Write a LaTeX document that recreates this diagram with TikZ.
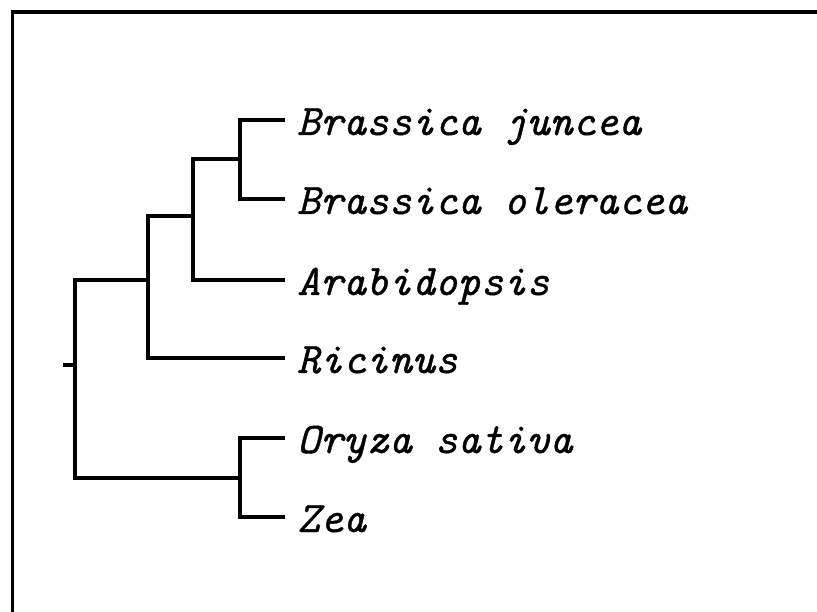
\documentclass[tikz,border=0pt]{standalone}
\usepackage{fontspec}
\newfontfamily\leaffont{lmmono10-italic}[Extension=.otf, FakeBold=0.9]
\begin{document}
\begin{tikzpicture}[x=1pt,y=-1pt,
  tree/.style={line width=4pt, line join=miter, line cap=butt},
  frame/.style={line width=3.3pt},
  leaf/.style={anchor=west, inner xsep=12pt, inner ysep=0pt, text height=30pt, text depth=0pt,
    font=\fontsize{43.7}{50}\selectfont\leaffont}]
\useasboundingbox (0,0) rectangle (817,612);
\draw[frame] (12.5,612) -- (12.5,12) -- (817,12);
% leaves
\node[leaf] (bj)  at (285,120) {Brassica juncea};
\node[leaf] (bo)  at (285,199) {Brassica oleracea};
\node[leaf] (ara) at (285,280) {Arabidopsis};
\node[leaf] (ric) at (285,358) {Ricinus};
\node[leaf] (oz)  at (285,438) {Oryza sativa};
\node[leaf] (zea) at (285,517) {Zea};
% internal nodes
\coordinate (C) at (240,159);
\coordinate (B) at (193,216);
\coordinate (A) at (148,280);
\coordinate (D) at (240,478);
\coordinate (R) at (75,365);
\coordinate (S) at (63,365);
% branches
\draw[tree] (bj.west) -| (C) |- (bo.west);
\draw[tree] (C) -| (B) |- (ara.west);
\draw[tree] (B) -| (A) |- (ric.west);
\draw[tree] (oz.west) -| (D) |- (zea.west);
\draw[tree] (A) -| (R) |- (D);
\draw[tree] (S) -- (R);
\end{tikzpicture}
\end{document}
